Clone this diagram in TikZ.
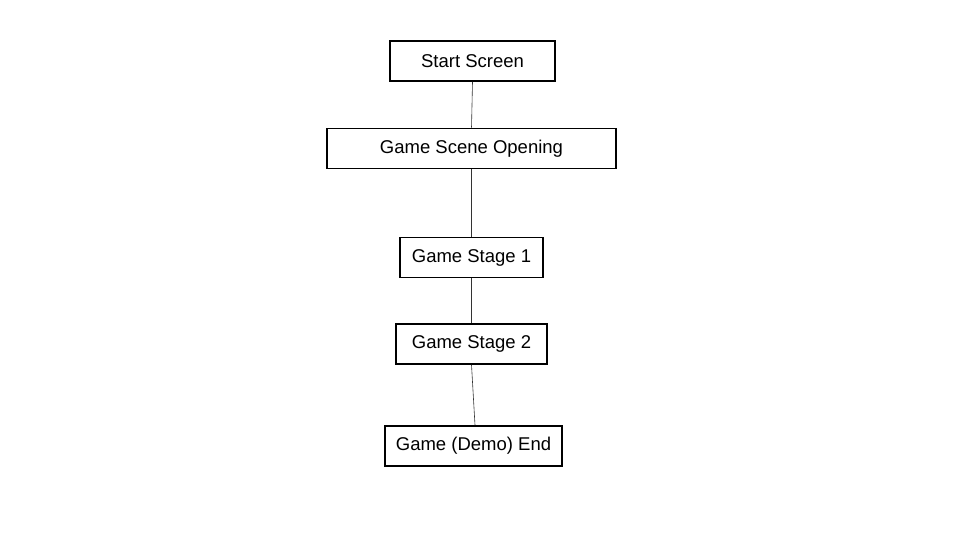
\documentclass[tikz,border=0pt]{standalone}
\usepackage{fontspec}
\setmainfont{Liberation Sans}
\usepackage{xcolor}
\tikzset{
    screen/.style={draw,line width=1.6pt,inner sep=0pt,minimum height=40,
        font=\fontsize{18.5}{22}\selectfont},
    link/.style={draw,line width=0.6pt,black!80},
}
\newcommand{\screen}[5] {
    \node[screen,minimum width=#4] (#1) at ({#2},{#3}) {#5};
}

\begin{document}
\begin{tikzpicture}[x=1pt,y=-1pt]
        \useasboundingbox (0,0) rectangle (960,540);
        \screen{start}{472.5}{61}{165}{Start Screen};
        \screen{opening}{471.5}{148.5}{289}{Game Scene Opening};
        \screen{stageone}{471.5}{257.5}{143}{Game Stage 1\hspace{8pt}};
        \screen{stagetwo}{471.5}{344}{151}{Game Stage 2\hspace{14pt}};
        \screen{demoend}{473.5}{446}{177}{Game (Demo) End};
        \draw[link] (start.south) -- (opening.north);
        \draw[link] (opening.south) -- (stageone.north);
        \draw[link] (stageone.south) -- (stagetwo.north);
        \draw[link] (stagetwo.south) -- ([xshift=1.5]demoend.north);
    \end{tikzpicture}
\end{document}
